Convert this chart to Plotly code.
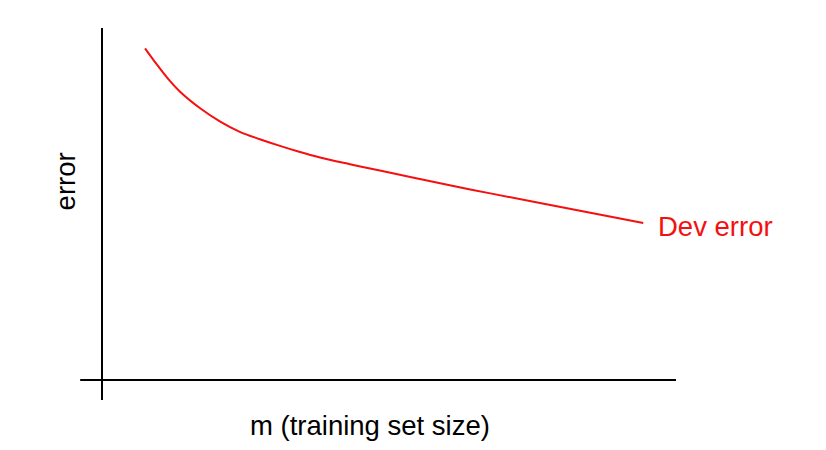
import plotly.graph_objects as go

# training set size (arbitrary units) and dev error
m = [7.5, 9.2, 11.6, 13.6, 17.1, 20.6, 24.0, 27.5, 31.0, 34.2, 38.0, 43.2, 48.4, 53.7, 64.6, 76.3, 94.3]
dev_error = [94.2, 90.4, 85.4, 81.9, 77.2, 73.4, 70.5, 68.4, 66.5, 64.9, 63.2, 61.3, 59.5, 57.7, 54.0, 50.3, 44.6]

series_name = "Dev error"
x_title = "m (training set size)"
y_title = "error"

font_family = "Liberation Sans, Arial, sans-serif"
red = "#f50f0f"

fig = go.Figure()
fig.add_trace(go.Scatter(x=m, y=dev_error, mode="lines", line_shape="spline",
                         line=dict(color=red, width=2), name=series_name,
                         showlegend=False, hoverinfo="skip"))

# label at the end of the curve
fig.add_annotation(x=m[-1], y=dev_error[-1], text=series_name, showarrow=False,
                   xanchor="left", yanchor="middle", xshift=13, yshift=-3,
                   font=dict(size=27.5, color=red, family=font_family))

# axis titles
fig.add_annotation(x=0.467, y=-0.128, xref="paper", yref="paper", text=x_title,
                   showarrow=False, xanchor="center", yanchor="middle",
                   font=dict(size=27.5, color="black", family=font_family))
fig.add_annotation(x=-0.064, y=0.565, xref="paper", yref="paper", text=y_title,
                   showarrow=False, textangle=-90, xanchor="center", yanchor="middle",
                   font=dict(size=27.5, color="black", family=font_family))

# the two hand-drawn axes, each overshooting a little past the origin
fig.add_shape(type="line", xref="paper", yref="paper", x0=-0.038, x1=1, y0=0, y1=0,
              line=dict(color="black", width=2))
fig.add_shape(type="line", xref="paper", yref="paper", x0=0, x1=0, y0=-0.057, y1=1,
              line=dict(color="black", width=2))

fig.update_xaxes(range=[0, 100], visible=False)
fig.update_yaxes(range=[0, 100], visible=False)
# page body has an 8px margin, so the margins are shifted to compensate
fig.update_layout(width=826, height=450, plot_bgcolor="white", paper_bgcolor="white",
                  margin=dict(l=94, r=158, t=20, b=78),
                  font=dict(family=font_family))

fig.write_html("out.html")
